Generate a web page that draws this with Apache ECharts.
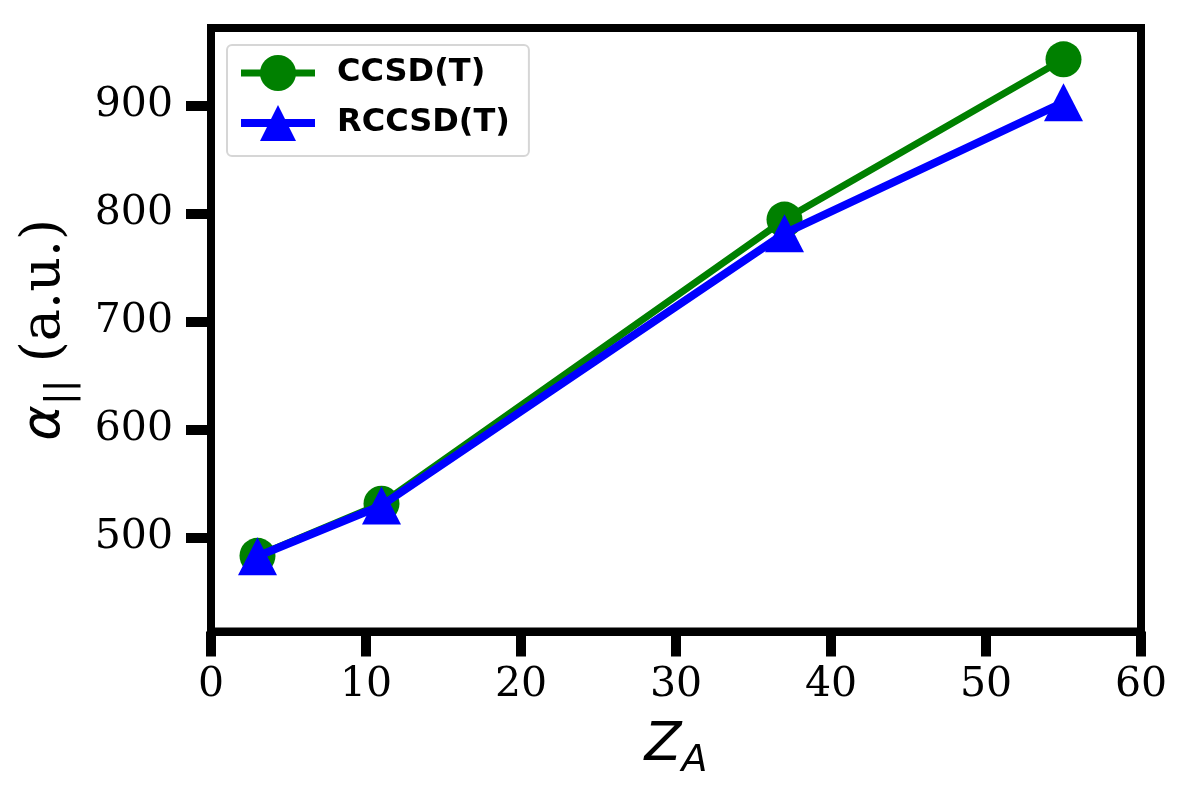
<!DOCTYPE html>
<html>
<head>
<meta charset="utf-8">
<title>polarizability vs Z_A</title>
<script src="https://cdn.jsdelivr.net/npm/echarts@6/dist/echarts.min.js"></script>
<style>
  html, body { margin: 0; padding: 0; background: #fff; }
  #main { width: 1187px; height: 793px; }
</style>
</head>
<body>
<div id="main"></div>
<script>
/* data */
const zA = [3, 11, 37, 55];
const ccsdT = [483.0, 531.2, 794.3, 942.6];
const rccsdT = [482.5, 529.5, 781.5, 902.8];
const seriesNames = ['CCSD(T)', 'RCCSD(T)'];
const xTicks = [0, 10, 20, 30, 40, 50, 60];
const yTicks = [500, 600, 700, 800, 900];

function pairs(xs, ys) {
  return xs.map((x, i) => [x, ys[i]]);
}

var chart = echarts.init(document.getElementById('main'));
var option = {
  animation: false,
  backgroundColor: '#fff',
  grid: {
    left: 211, right: 46, top: 28, bottom: 161.5,
    show: true,
    borderColor: '#000',
    borderWidth: 8,
    outerBoundsMode: 'none'
  },
  legend: {
    left: 227, top: 45,
    orient: 'vertical',
    itemWidth: 74,
    itemHeight: 45,
    itemGap: 14,
    padding: [10, 19, 15, 10],
    borderColor: '#d6d6d6',
    borderWidth: 2,
    borderRadius: 5,
    backgroundColor: 'rgba(255,255,255,0.8)',
    textStyle: {
      fontFamily: 'DejaVu Sans',
      fontWeight: 'bold',
      fontSize: 32,
      color: '#000',
      padding: [0, 0, 0, 17]
    },
    // legend line keeps the series thickness
    data: [
      { name: seriesNames[0], lineStyle: { width: 7 } },
      { name: seriesNames[1], lineStyle: { width: 8 } }
    ]
  },
  xAxis: {
    type: 'value',
    min: xTicks[0], max: xTicks[xTicks.length - 1], interval: 10,
    name: '{z|Z}{s|A}',
    nameLocation: 'middle',
    nameGap: 87,
    nameTextStyle: {
      rich: {
        z: { fontFamily: 'DejaVu Sans', fontStyle: 'italic', fontSize: 54, lineHeight: 60, verticalAlign: 'top', color: '#000' },
        s: { fontFamily: 'DejaVu Sans', fontStyle: 'italic', fontSize: 38, lineHeight: 38, padding: [24, 0, 0, 0], verticalAlign: 'top', color: '#000' }
      }
    },
    axisLine: { lineStyle: { color: '#000', width: 8 } },
    axisTick: { inside: false, length: 25, lineStyle: { color: '#000', width: 10 } },
    axisLabel: { fontFamily: 'DejaVu Serif', fontSize: 41, color: '#000', margin: 33 },
    splitLine: { show: false }
  },
  yAxis: {
    type: 'value',
    min: 412.9, max: 971.6,
    name: '{a|α}{s|||}{t| (a.u.)}',
    nameLocation: 'middle',
    nameRotate: 90,
    nameGap: 133,
    nameTextStyle: {
      rich: {
        a: { fontFamily: 'DejaVu Sans', fontStyle: 'italic', fontSize: 54, lineHeight: 60, verticalAlign: 'top', color: '#000' },
        s: { fontFamily: 'DejaVu Sans', fontSize: 38, lineHeight: 38, padding: [24, 0, 0, 0], verticalAlign: 'top', color: '#000' },
        t: { fontFamily: 'DejaVu Serif', fontSize: 54, lineHeight: 60, verticalAlign: 'top', color: '#000' }
      }
    },
    axisLine: { lineStyle: { color: '#000', width: 8 } },
    axisTick: { inside: false, length: 25, customValues: yTicks, lineStyle: { color: '#000', width: 10 } },
    axisLabel: { fontFamily: 'DejaVu Serif', fontSize: 41, color: '#000', margin: 38, customValues: yTicks },
    splitLine: { show: false }
  },
  series: [
    {
      name: seriesNames[0],
      type: 'line',
      data: pairs(zA, ccsdT),
      symbol: 'circle',
      symbolSize: 36,
      color: '#008000',
      lineStyle: { color: '#008000', width: 7 },
      itemStyle: { color: '#008000', borderWidth: 0 },
      z: 2
    },
    {
      name: seriesNames[1],
      type: 'line',
      data: pairs(zA, rccsdT),
      symbol: 'triangle',
      symbolSize: [39, 38],
      color: '#0000ff',
      lineStyle: { color: '#0000ff', width: 8 },
      itemStyle: { color: '#0000ff', borderWidth: 0 },
      z: 3
    }
  ]
};
chart.setOption(option);
</script>
</body>
</html>
